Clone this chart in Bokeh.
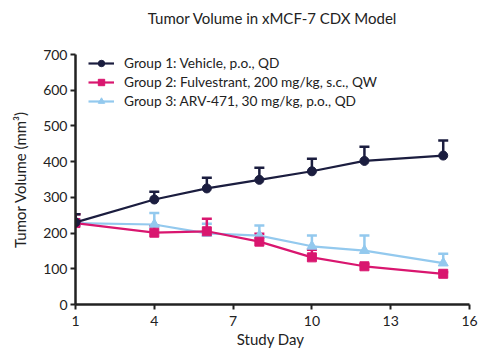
from bokeh.plotting import figure
from bokeh.models import ColumnDataSource, Whisker, TeeHead, Legend, LegendItem, FixedTicker, Range1d, Title
from bokeh.embed import file_html
from bokeh.resources import INLINE

days = [1, 4, 6, 8, 10, 12, 15]
g1 = [230, 294, 325, 349, 373, 402, 417]
g1_sem = [23, 22, 30, 34, 35, 40, 42]
g2 = [228, 201, 205, 176, 132, 107, 86]
g2_sem = [25, 20, 35, 22, 21, 6, 4]
g3 = [228, 224, 199, 193, 163, 151, 116]
g3_sem = [10, 32, 27, 28, 30, 42, 26]
labels = ["Group 1: Vehicle, p.o., QD",
          "Group 2: Fulvestrant, 200 mg/kg, s.c., QW",
          "Group 3: ARV-471, 30 mg/kg, p.o., QD"]
title_text = "Tumor Volume in xMCF-7 CDX Model"
x_ticks = [1, 4, 7, 10, 13, 16]
y_ticks = [0, 100, 200, 300, 400, 500, 600, 700]

FONT = "Lato"
p = figure(width=484, height=352, output_backend="svg", toolbar_location=None,
           x_range=Range1d(1, 16), y_range=Range1d(0, 700),
           min_border_left=75, min_border_right=15, min_border_top=54, min_border_bottom=48)
p.frame_width = 394
p.frame_height = 250
p.outline_line_color = None
p.grid.visible = False
p.background_fill_color = "white"

# spacer between title and plot area
p.add_layout(Title(text=" ", text_font=FONT, text_font_size="15px", standoff=2), "above")

p.title.text = title_text
p.title.align = "center"
p.title.text_font = FONT
p.title.text_font_style = "normal"
p.title.text_font_size = "15px"
p.title.text_color = "#222222"
p.title.offset = 0
p.title.standoff = 12

for ax in (p.xaxis[0], p.yaxis[0]):
    ax.axis_line_width = 2.5
    ax.axis_line_color = "#222222"
    ax.major_tick_line_width = 2
    ax.major_tick_line_color = "#222222"
    ax.major_tick_out = 5
    ax.major_tick_in = 0
    ax.minor_tick_line_color = None
    ax.major_label_text_font = FONT
    ax.major_label_text_font_size = "14px"
    ax.major_label_text_color = "#222222"
    ax.axis_label_text_font = FONT
    ax.axis_label_text_font_size = "15px"
    ax.axis_label_text_font_style = "normal"
    ax.axis_label_text_color = "#222222"

p.xaxis.ticker = FixedTicker(ticks=x_ticks)
p.yaxis.ticker = FixedTicker(ticks=y_ticks)
p.xaxis.axis_label = "Study  Day"
p.yaxis.axis_label = "Tumor Volume (mm³)"
p.xaxis.axis_label_standoff = 1
p.yaxis.axis_label_standoff = 11
p.xaxis.major_label_standoff = 6
p.yaxis.major_label_standoff = 3

navy = "#1b1d3f"
pink = "#d9166f"
blue = "#93c9ee"

series = [
    (g3, g3_sem, blue, "triangle", 10, labels[2]),
    (g2, g2_sem, pink, "square", 9, labels[1]),
    (g1, g1_sem, navy, "circle", 9, labels[0]),
]
items = {}
for vals, sem, col, mk, sz, lab in series:
    src = ColumnDataSource(dict(x=days, y=vals, up=[v + s for v, s in zip(vals, sem)]))
    w = Whisker(source=src, base="x", lower="y", upper="up", line_color=col, line_width=2.5,
                upper_head=TeeHead(size=10, line_color=col, line_width=2.5), lower_head=None)
    p.add_layout(w)
    r1 = p.line("x", "y", source=src, line_color=col, line_width=2.2)
    r2 = p.scatter("x", "y", source=src, marker=mk, size=sz, fill_color=col, line_color=col)
    items[lab] = [r1, r2]

legend = Legend(items=[LegendItem(label=l, renderers=items[l]) for l in labels],
                location=(13, 195), background_fill_alpha=0, border_line_color=None,
                label_text_font=FONT, label_text_font_size="13.7px", label_text_color="#222222",
                glyph_width=26, glyph_height=16, label_height=16, label_standoff=10, spacing=2,
                padding=0, margin=0)
p.add_layout(legend)

open("out.html", "w").write(file_html(p, INLINE))
